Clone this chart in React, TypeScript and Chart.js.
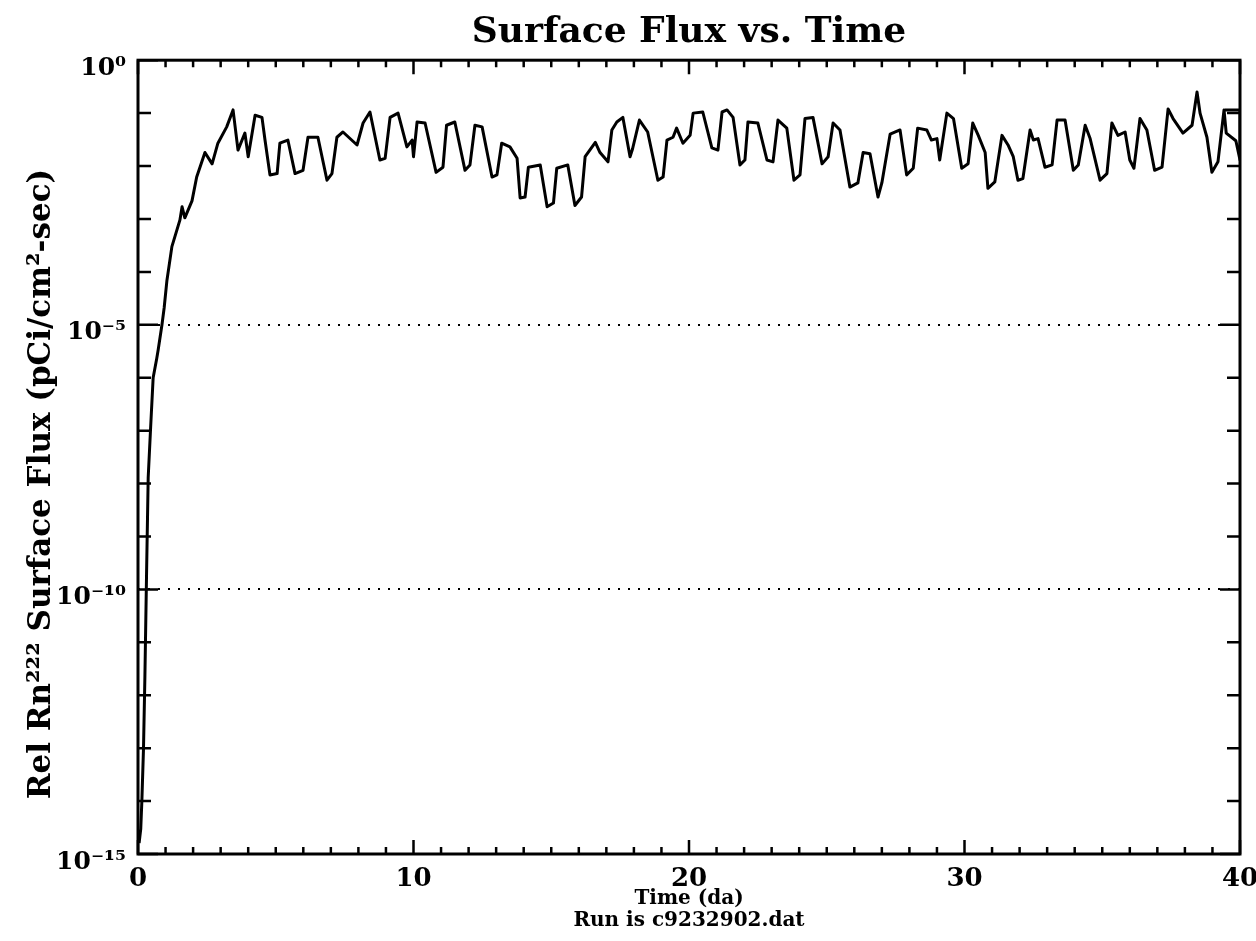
import React, { useEffect, useRef } from 'react';
import { Chart, registerables } from 'chart.js';

Chart.register(...registerables);

const FONT = "'DejaVu Serif', serif";

const chartTitle = 'Surface Flux vs. Time';
const yAxisTitle = 'Rel Rn\u00B2\u00B2\u00B2 Surface Flux (pCi/cm\u00B2-sec)\u00A0\u00A0\u00A0\u00A0\u00A0';
const xAxisTitle = ['Time (da)', 'Run is c9232902.dat'];

const xMajorValues = [0, 10, 20, 30, 40];
const xTickLabels = ['0', '10', '20', '30', '40'];
const yDecades = [0, -1, -2, -3, -4, -5, -6, -7, -8, -9, -10, -11, -12, -13, -14, -15];
const yMajorExponents = [0, -5, -10, -15];
const yTickLabels = ['10\u2070', '10\u207B\u2075', '10\u207B\u00B9\u2070', '10\u207B\u00B9\u2075'];
const yDottedExponents = [-5, -10];

const timeDays = [
  0.04, 0.10, 0.14, 0.20, 0.25, 0.31, 0.37, 0.46, 0.55, 0.68,
  0.73, 0.87, 0.95, 1.05, 1.23, 1.52, 1.60, 1.70, 1.96, 2.13,
  2.43, 2.69, 2.90, 3.22, 3.45, 3.63, 3.88, 4.00, 4.25, 4.50,
  4.61, 4.79, 5.05, 5.15, 5.44, 5.70, 5.99, 6.17, 6.53, 6.86,
  7.04, 7.22, 7.44, 7.95, 8.17, 8.42, 8.78, 8.97, 9.15, 9.44,
  9.76, 9.95, 10.00, 10.13, 10.42, 10.82, 11.07, 11.20, 11.50, 11.87,
  12.05, 12.23, 12.49, 12.85, 13.03, 13.20, 13.50, 13.76, 13.87, 14.05,
  14.17, 14.60, 14.85, 15.08, 15.20, 15.60, 15.86, 16.10, 16.23, 16.60,
  16.77, 17.06, 17.20, 17.38, 17.60, 17.86, 17.95, 18.20, 18.50, 18.87,
  19.06, 19.20, 19.42, 19.55, 19.78, 20.04, 20.15, 20.50, 20.83, 21.05,
  21.20, 21.38, 21.60, 21.85, 22.03, 22.14, 22.50, 22.83, 23.05, 23.23,
  23.55, 23.81, 24.03, 24.21, 24.50, 24.83, 25.05, 25.23, 25.48, 25.84,
  26.13, 26.32, 26.57, 26.86, 27.00, 27.30, 27.66, 27.90, 28.14, 28.30,
  28.63, 28.80, 29.00, 29.10, 29.36, 29.60, 29.90, 30.13, 30.30, 30.50,
  30.75, 30.85, 31.10, 31.36, 31.58, 31.77, 31.94, 32.12, 32.38, 32.50,
  32.67, 32.92, 33.18, 33.36, 33.65, 33.95, 34.13, 34.38, 34.56, 34.92,
  35.17, 35.35, 35.57, 35.83, 36.00, 36.15, 36.37, 36.62, 36.90, 37.17,
  37.39, 37.57, 37.93, 38.26, 38.44, 38.55, 38.80, 38.98, 39.20, 39.42,
  39.50, 39.85, 40.00, 40.00, 39.45,
];

const surfaceFlux = [
  1.6e-15, 3e-15, 1e-14, 1e-13, 2.2e-12, 1.9e-10, 1.3e-8, 1.2e-7, 1.0e-6, 2.3e-6,
  3.3e-6, 1.0e-5, 2.1e-5, 6.9e-5, 3.0e-4, 9.5e-4, 1.7e-3, 1.05e-3, 2.2e-3, 6.2e-3,
  1.8e-2, 1.1e-2, 2.7e-2, 5.5e-2, 1.15e-1, 2.0e-2, 4.2e-2, 1.5e-2, 9.1e-2, 8.3e-2,
  3.1e-2, 6.8e-3, 7.2e-3, 2.7e-2, 3.1e-2, 7.2e-3, 8.3e-3, 3.5e-2, 3.5e-2, 5.4e-3,
  7.2e-3, 3.5e-2, 4.4e-2, 2.5e-2, 6.5e-2, 1.05e-1, 1.3e-2, 1.4e-2, 8.3e-2, 1.0e-1,
  2.3e-2, 3.1e-2, 1.5e-2, 6.8e-2, 6.5e-2, 7.6e-3, 9.5e-3, 5.9e-2, 6.8e-2, 8.3e-3,
  1.05e-2, 5.9e-2, 5.5e-2, 6.2e-3, 6.8e-3, 2.7e-2, 2.3e-2, 1.4e-2, 2.5e-3, 2.6e-3,
  9.5e-3, 1.05e-2, 1.7e-3, 2.0e-3, 9.1e-3, 1.05e-2, 1.8e-3, 2.6e-3, 1.5e-2, 2.8e-2,
  1.8e-2, 1.2e-2, 4.8e-2, 6.8e-2, 8.3e-2, 1.5e-2, 2.1e-2, 7.4e-2, 4.4e-2, 5.4e-3,
  6.2e-3, 3.1e-2, 3.5e-2, 5.2e-2, 2.7e-2, 3.8e-2, 1.0e-1, 1.05e-1, 2.2e-2, 2.0e-2,
  1.05e-1, 1.15e-1, 8.3e-2, 1.05e-2, 1.3e-2, 6.8e-2, 6.5e-2, 1.3e-2, 1.2e-2, 7.4e-2,
  5.2e-2, 5.4e-3, 6.8e-3, 7.9e-2, 8.3e-2, 1.1e-2, 1.5e-2, 6.5e-2, 4.8e-2, 4.0e-3,
  4.8e-3, 1.8e-2, 1.7e-2, 2.6e-3, 4.8e-3, 4.0e-2, 4.8e-2, 6.8e-3, 9.1e-3, 5.2e-2,
  4.8e-2, 3.1e-2, 3.3e-2, 1.3e-2, 1.0e-1, 7.9e-2, 9.1e-3, 1.1e-2, 6.5e-2, 3.8e-2,
  1.8e-2, 3.8e-3, 5.0e-3, 3.8e-2, 2.5e-2, 1.5e-2, 5.4e-3, 5.8e-3, 4.8e-2, 3.1e-2,
  3.3e-2, 9.5e-3, 1.05e-2, 7.4e-2, 7.4e-2, 8.3e-3, 1.05e-2, 5.9e-2, 3.3e-2, 5.4e-3,
  7.2e-3, 6.5e-2, 3.8e-2, 4.4e-2, 1.3e-2, 9.1e-3, 7.9e-2, 4.8e-2, 8.3e-3, 9.5e-3,
  1.2e-1, 7.9e-2, 4.2e-2, 5.9e-2, 2.5e-1, 1.0e-1, 3.5e-2, 7.6e-3, 1.2e-2, 1.15e-1,
  4.2e-2, 3.0e-2, 1.3e-2, 1.15e-1, 1.15e-1,
];

const exponentOf = (v: number) => Math.round(Math.log10(v));

const frameTicksPlugin = {
  id: 'frameTicks',
  afterDatasetsDraw(chart: any) {
    const { ctx, chartArea: a, scales } = chart;
    const xs = scales.x;
    const ys = scales.y;
    ctx.save();
    ctx.strokeStyle = '#000';
    ctx.lineWidth = 3;
    ctx.strokeRect(a.left, a.top, a.right - a.left, a.bottom - a.top);
    ctx.lineWidth = 2.5;
    ctx.beginPath();
    xs.ticks.forEach((t: any) => {
      const px = xs.getPixelForValue(t.value);
      const len = xMajorValues.includes(t.value) ? 14 : 7;
      ctx.moveTo(px, a.bottom);
      ctx.lineTo(px, a.bottom - len);
      ctx.moveTo(px, a.top);
      ctx.lineTo(px, a.top + len);
    });
    ys.ticks.forEach((t: any) => {
      const py = ys.getPixelForValue(t.value);
      const len = yMajorExponents.includes(exponentOf(t.value)) ? 20 : 13;
      ctx.moveTo(a.left, py);
      ctx.lineTo(a.left + len, py);
      ctx.moveTo(a.right, py);
      ctx.lineTo(a.right - len, py);
    });
    ctx.stroke();
    ctx.restore();
  },
};

export default function App() {
  const canvasRef = useRef<HTMLCanvasElement | null>(null);

  useEffect(() => {
    const canvas = canvasRef.current;
    if (!canvas) return;
    const points = timeDays.map((t, i) => ({ x: t, y: surfaceFlux[i] }));
    const chart = new Chart(canvas, {
      type: 'line',
      data: {
        datasets: [
          {
            data: points,
            borderColor: '#000',
            borderWidth: 3,
            pointRadius: 0,
            fill: false,
            tension: 0,
            borderJoinStyle: 'round',
          },
        ],
      },
      options: {
        animation: false,
        responsive: false,
        events: [],
        color: '#000',
        layout: { padding: { left: 0, right: 16, top: 0, bottom: 0 } },
        plugins: {
          legend: { display: false },
          tooltip: { enabled: false },
          title: {
            display: true,
            fullSize: false,
            text: chartTitle,
            color: '#000',
            font: { family: FONT, size: 36, weight: 'bold', lineHeight: 1.2 },
            padding: { top: 11, bottom: 6 },
          },
        },
        scales: {
          x: {
            type: 'linear',
            min: 0,
            max: 40,
            afterFit: (scale: any) => {
              scale.height = 87;
              scale.paddingLeft = 0;
              scale.paddingRight = 0;
            },
            ticks: {
              stepSize: 1,
              autoSkip: false,
              maxRotation: 0,
              color: '#000',
              padding: 10,
              font: { family: FONT, size: 26, weight: 'bold' },
              callback: (value: any) => {
                const i = xMajorValues.indexOf(Number(value));
                return i >= 0 ? xTickLabels[i] : '';
              },
            },
            grid: { display: false, drawTicks: false },
            border: { display: false },
            title: {
              display: true,
              text: xAxisTitle,
              color: '#000',
              font: { family: FONT, size: 20, weight: 'bold', lineHeight: 1.1 },
              padding: { top: 0, bottom: 9 },
            },
          },
          y: {
            type: 'logarithmic',
            min: 1e-15,
            max: 1,
            afterBuildTicks: (scale: any) => {
              scale.ticks = yDecades.map((e) => ({ value: Math.pow(10, e) }));
            },
            afterFit: (scale: any) => {
              scale.width = 138;
              scale.paddingTop = 0;
              scale.paddingBottom = 0;
            },
            ticks: {
              autoSkip: false,
              color: '#000',
              padding: 12,
              labelOffset: 8,
              font: { family: FONT, size: 25, weight: 'bold' },
              callback: (value: any) => {
                const i = yMajorExponents.indexOf(exponentOf(Number(value)));
                return i >= 0 ? yTickLabels[i] : '';
              },
            },
            grid: {
              drawTicks: false,
              lineWidth: 2,
              color: (ctx: any) => {
                if (!ctx.tick) return 'rgba(0,0,0,0)';
                return yDottedExponents.includes(exponentOf(ctx.tick.value)) ? '#000' : 'rgba(0,0,0,0)';
              },
            },
            border: { display: false, dash: [2, 8] },
            title: {
              display: true,
              text: yAxisTitle,
              color: '#000',
              font: { family: FONT, size: 31, weight: 'bold', lineHeight: 1.2 },
              padding: { top: 23, bottom: 0 },
            },
          },
        },
      },
      plugins: [frameTicksPlugin],
    } as any);
    return () => chart.destroy();
  }, []);

  return (
    <div style={{ position: 'absolute', left: 0, top: 0, width: 1256, height: 941, background: '#fff' }}>
      <canvas ref={canvasRef} width={1256} height={941} style={{ display: 'block' }} />
    </div>
  );
}
